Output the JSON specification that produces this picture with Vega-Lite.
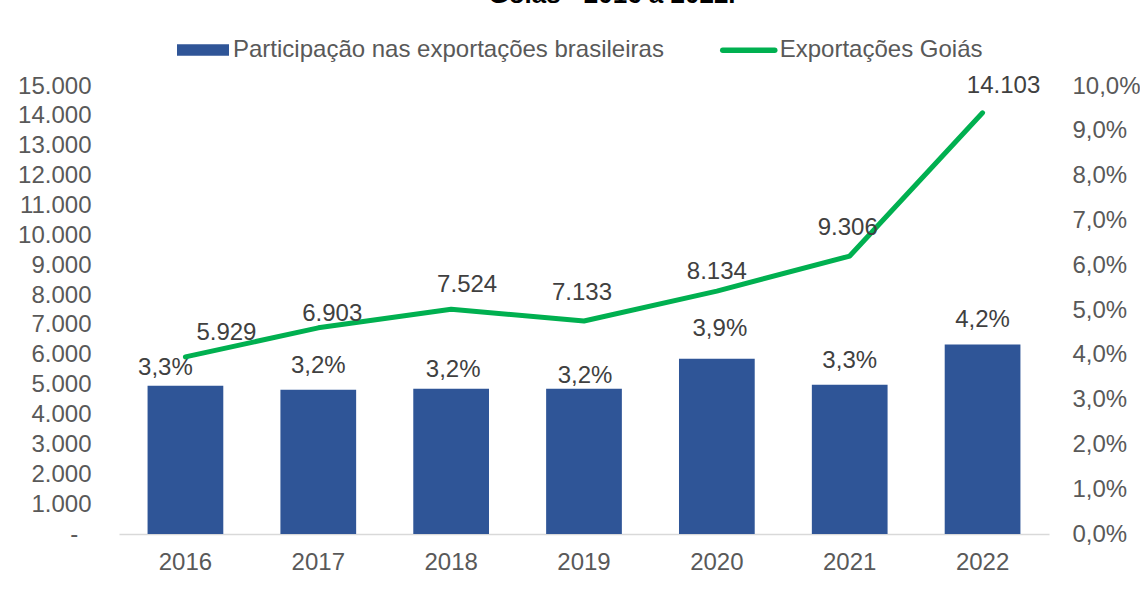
{
  "$schema": "https://vega.github.io/schema/vega-lite/v6.json",
  "width": 930,
  "height": 448,
  "autosize": {"type": "none"},
  "padding": {"left": 119, "top": 86, "right": 91, "bottom": 77},
  "background": "white",
  "config": {
    "locale": {"number": {"decimal": ",", "thousands": ".", "grouping": [3], "currency": ["R$", ""]}},
    "view": {"stroke": null},
    "font": "Liberation Sans",
    "axis": {"labelFont": "Liberation Sans", "labelFontSize": 24, "labelColor": "#595959", "grid": false, "ticks": false, "title": null}
  },
  "title": {
    "text": "Goiás - 2016 a 2022.",
    "font": "Liberation Sans",
    "fontSize": 26,
    "fontWeight": "bold",
    "color": "#000000",
    "anchor": "middle",
    "baseline": "alphabetic",
    "offset": 0,
    "dx": 28,
    "dy": 8
  },
  "data": {
    "values": [
      {"ano": "2016", "part": 0.0331, "exp": 5929},
      {"ano": "2017", "part": 0.0322, "exp": 6903},
      {"ano": "2018", "part": 0.0324, "exp": 7524},
      {"ano": "2019", "part": 0.0324, "exp": 7133},
      {"ano": "2020", "part": 0.0391, "exp": 8134},
      {"ano": "2021", "part": 0.0333, "exp": 9306},
      {"ano": "2022", "part": 0.0423, "exp": 14103}
    ]
  },
  "encoding": {
    "x": {
      "field": "ano",
      "type": "ordinal",
      "scale": {"paddingInner": 0.43, "paddingOuter": 0.215},
      "axis": {"title": null, "labelAngle": 0, "domainColor": "#D9D9D9", "domainWidth": 1.5, "labelPadding": 16, "ticks": false}
    }
  },
  "layer": [
    {
      "encoding": {
        "y": {
          "field": "part",
          "type": "quantitative",
          "scale": {"domain": [0, 0.1], "nice": false},
          "axis": {"orient": "right", "values": [0, 0.01, 0.02, 0.03, 0.04, 0.05, 0.06, 0.07, 0.08, 0.09, 0.1], "format": ".1%", "domain": false, "ticks": false, "grid": false, "labelPadding": 23, "title": null}
        }
      },
      "layer": [
        {
          "mark": {"type": "bar"},
          "encoding": {
            "fill": {
              "datum": "Participação nas exportações brasileiras",
              "type": "nominal",
              "scale": {"range": ["#2F5597"]},
              "legend": {
                "orient": "none",
                "legendX": 58,
                "legendY": -62,
                "title": null,
                "padding": 0,
                "symbolType": "M-1,-0.225H1V0.225H-1Z",
                "symbolSize": 2704,
                "symbolStrokeWidth": 0,
                "symbolOpacity": 1,
                "labelFont": "Liberation Sans",
                "labelFontSize": 24,
                "labelColor": "#595959",
                "labelLimit": 800,
                "labelOffset": 4
              }
            }
          }
        },
        {
          "transform": [{"filter": "datum.ano == '2017' || datum.ano == '2021' || datum.ano == '2022'"}],
          "mark": {"type": "text", "fontSize": 24, "color": "#404040", "baseline": "middle", "dy": -24},
          "encoding": {"text": {"field": "part", "type": "quantitative", "format": ".1%"}}
        },
        {
          "transform": [{"filter": "datum.ano == '2018'"}],
          "mark": {"type": "text", "fontSize": 24, "color": "#404040", "baseline": "middle", "dy": -19, "dx": 2},
          "encoding": {"text": {"field": "part", "type": "quantitative", "format": ".1%"}}
        },
        {
          "transform": [{"filter": "datum.ano == '2019'"}],
          "mark": {"type": "text", "fontSize": 24, "color": "#404040", "baseline": "middle", "dy": -13, "dx": 1},
          "encoding": {"text": {"field": "part", "type": "quantitative", "format": ".1%"}}
        },
        {
          "transform": [{"filter": "datum.ano == '2016'"}],
          "mark": {"type": "text", "fontSize": 24, "color": "#404040", "baseline": "middle", "dy": -18, "dx": -20},
          "encoding": {"text": {"field": "part", "type": "quantitative", "format": ".1%"}}
        },
        {
          "transform": [{"filter": "datum.ano == '2020'"}],
          "mark": {"type": "text", "fontSize": 24, "color": "#404040", "baseline": "middle", "dy": -30, "dx": 3},
          "encoding": {"text": {"field": "part", "type": "quantitative", "format": ".1%"}}
        }
      ]
    },
    {
      "encoding": {
        "y": {
          "field": "exp",
          "type": "quantitative",
          "scale": {"domain": [0, 15000], "nice": false},
          "axis": {
            "orient": "left",
            "values": [0, 1000, 2000, 3000, 4000, 5000, 6000, 7000, 8000, 9000, 10000, 11000, 12000, 13000, 14000, 15000],
            "format": ",.0f",
            "labelExpr": "datum.value == 0 ? '-\u00a0\u00a0\u200b' : datum.label",
            "domain": false, "ticks": false, "grid": false, "labelPadding": 28, "title": null
          }
        }
      },
      "layer": [
        {
          "mark": {"type": "line", "strokeWidth": 5, "strokeCap": "round", "strokeJoin": "round"},
          "encoding": {
            "stroke": {
              "datum": "Exportações Goiás",
              "type": "nominal",
              "scale": {"range": ["#00B050"]},
              "legend": {
                "orient": "none",
                "legendX": 600.75,
                "legendY": -64.75,
                "title": null,
                "padding": 0,
                "symbolType": "M-1,0H1",
                "symbolSize": 2704,
                "symbolStrokeWidth": 5.5,
                "symbolOpacity": 1,
                "labelFont": "Liberation Sans",
                "labelFontSize": 24,
                "labelColor": "#595959",
                "labelLimit": 800,
                "labelOffset": 2,
                "encode": {"symbols": {"update": {"strokeCap": {"value": "round"}}}}
              }
            }
          }
        },
        {
          "transform": [{"filter": "datum.ano == '2016'"}],
          "mark": {"type": "text", "fontSize": 24, "color": "#404040", "baseline": "middle", "dy": -24, "dx": 41},
          "encoding": {"text": {"field": "exp", "type": "quantitative", "format": ",.0f"}}
        },
        {
          "transform": [{"filter": "datum.ano == '2017'"}],
          "mark": {"type": "text", "fontSize": 24, "color": "#404040", "baseline": "middle", "dy": -14, "dx": 14},
          "encoding": {"text": {"field": "exp", "type": "quantitative", "format": ",.0f"}}
        },
        {
          "transform": [{"filter": "datum.ano == '2018'"}],
          "mark": {"type": "text", "fontSize": 24, "color": "#404040", "baseline": "middle", "dy": -24, "dx": 16},
          "encoding": {"text": {"field": "exp", "type": "quantitative", "format": ",.0f"}}
        },
        {
          "transform": [{"filter": "datum.ano == '2019' || datum.ano == '2021'"}],
          "mark": {"type": "text", "fontSize": 24, "color": "#404040", "baseline": "middle", "dy": -28, "dx": -2},
          "encoding": {"text": {"field": "exp", "type": "quantitative", "format": ",.0f"}}
        },
        {
          "transform": [{"filter": "datum.ano == '2020'"}],
          "mark": {"type": "text", "fontSize": 24, "color": "#404040", "baseline": "middle", "dy": -19, "dx": 0},
          "encoding": {"text": {"field": "exp", "type": "quantitative", "format": ",.0f"}}
        },
        {
          "transform": [{"filter": "datum.ano == '2022'"}],
          "mark": {"type": "text", "fontSize": 24, "color": "#404040", "baseline": "middle", "dy": -27, "dx": 21},
          "encoding": {"text": {"field": "exp", "type": "quantitative", "format": ",.0f"}}
        }
      ]
    }
  ],
  "resolve": {"scale": {"y": "independent"}}
}
